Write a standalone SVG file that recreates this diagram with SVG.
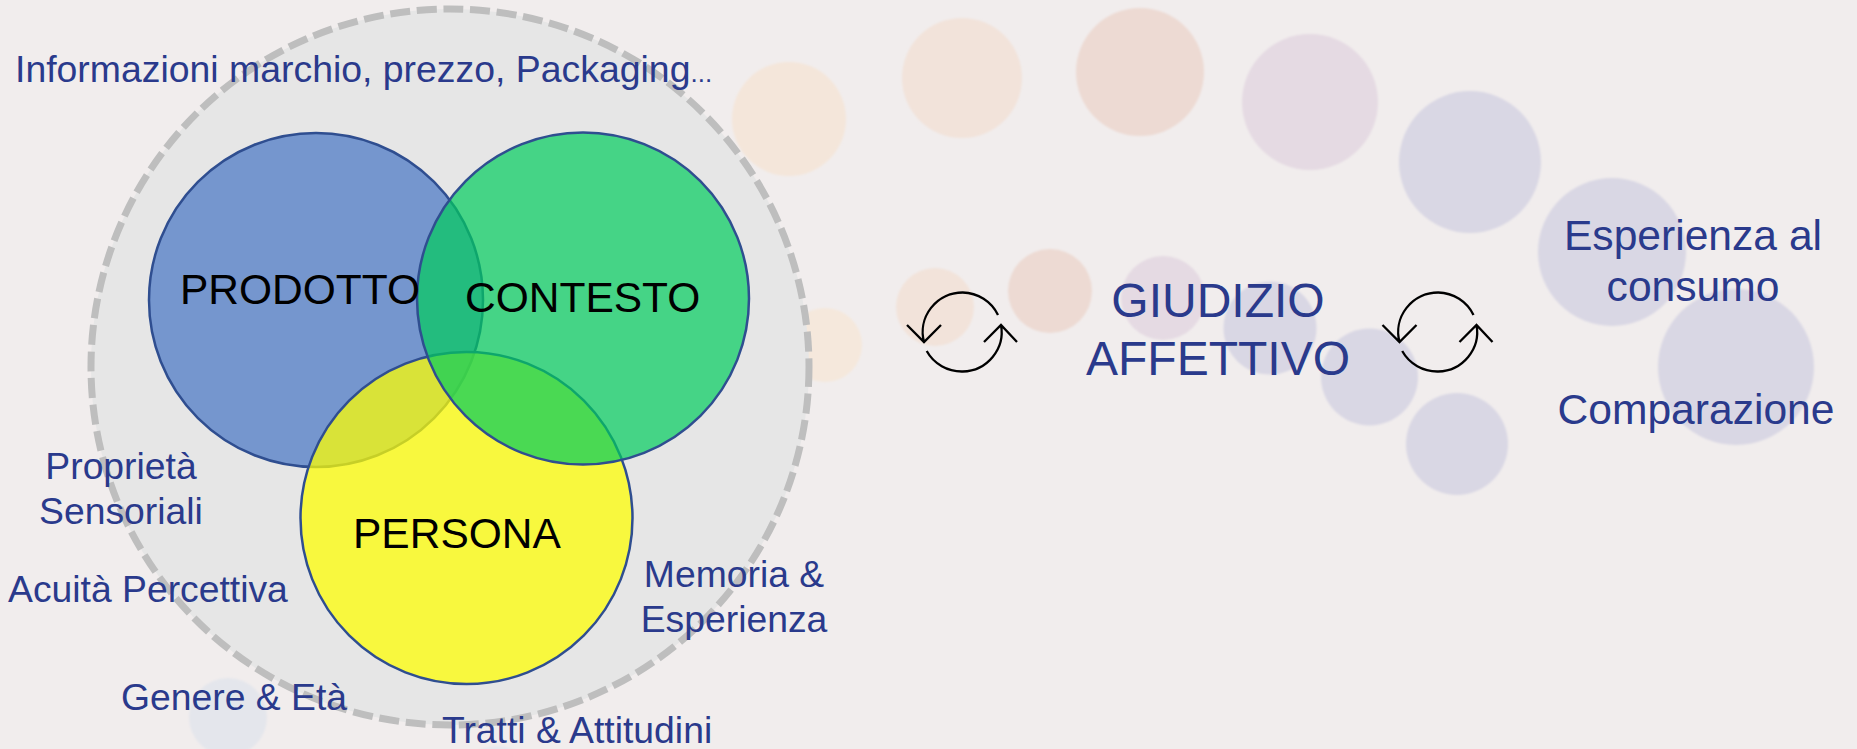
<svg xmlns="http://www.w3.org/2000/svg" width="1857" height="749" viewBox="0 0 1857 749">
<defs><filter id="soft" x="-10%" y="-10%" width="120%" height="120%"><feGaussianBlur stdDeviation="1.2"/></filter></defs>
<style>
text{font-family:"Liberation Sans",Arial,sans-serif}
.b{fill:#2a3a8c;font-size:37.300px}
.l{fill:#2a3a8c;font-size:42.600px;text-anchor:middle}
.k{fill:#000;font-size:42.500px}
.m{text-anchor:middle}
.g{fill:#2a3a8c;font-size:48px;text-anchor:middle}
.c{stroke:#2f4e90;stroke-width:2.5}
.a{fill:none;stroke:#000;stroke-width:2.300}
</style>
<rect width="1857" height="749" fill="#f1eded"/>
<g id="bubbles" filter="url(#soft)">
<circle cx="228" cy="717" r="39" fill="#e4e6ec"/>
<circle cx="497" cy="786" r="40" fill="#e6e8ee"/>
<circle cx="825" cy="345" r="37" fill="#f5e8dc"/>
<circle cx="789" cy="119" r="57" fill="#f4e6da"/>
<circle cx="962" cy="78" r="60" fill="#f2e3da"/>
<circle cx="1140" cy="72" r="64" fill="#eddad3"/>
<circle cx="1310" cy="102" r="68" fill="#e5dae3"/>
<circle cx="1470" cy="162" r="71" fill="#d9d7e4"/>
<circle cx="1612" cy="252" r="74" fill="#d9d7e4"/>
<circle cx="1736" cy="367" r="78" fill="#d9d7e4"/>
<circle cx="1457" cy="444" r="51" fill="#d9d7e4"/>
<circle cx="1369.500" cy="377" r="48.500" fill="#d9d7e4"/>
<circle cx="1270" cy="328" r="46.500" fill="#d9d7e4"/>
<circle cx="1163" cy="298" r="42" fill="#e5dae3"/>
<circle cx="1050" cy="291" r="42" fill="#eddad3"/>
<circle cx="935" cy="307" r="39" fill="#f2e3da"/>
</g>
<g id="outer"><ellipse cx="450" cy="367" rx="359" ry="358" fill="#e6e6e6" stroke="#bebebe" stroke-width="7" stroke-dasharray="20 6.700"/></g>
<g id="prodotto"><circle class="c" cx="316" cy="300" r="167" fill="#7596ce"/></g>
<g id="persona"><circle class="c" cx="466.500" cy="518" r="166" fill="#ffff00" fill-opacity=".73"/></g>
<g id="contesto"><circle class="c" cx="583" cy="298.500" r="166" fill="#00cc5c" fill-opacity=".7"/></g>
<g id="labels">
<text class="k" x="180" y="304">PRODOTTO</text>
<text class="k" x="465" y="312">CONTESTO</text>
<text class="k" x="353" y="548">PERSONA</text>
<text class="b" x="15" y="82" style="font-size:37.400px">Informazioni marchio, prezzo, Packaging<tspan font-size="26">...</tspan></text>
<text class="b m" x="121" y="479">Proprietà</text>
<text class="b m" x="121" y="524">Sensoriali</text>
<text class="b" x="8" y="602">Acuità Percettiva</text>
<text class="b" x="121" y="710">Genere &amp; Età</text>
<text class="b m" x="734" y="587">Memoria &amp;</text>
<text class="b m" x="734" y="632">Esperienza</text>
<text class="b" x="442" y="743">Tratti &amp; Attitudini</text>
<text class="g" x="1218" y="317">GIUDIZIO</text>
<text class="g" x="1218" y="375">AFFETTIVO</text>
<text class="l" x="1693" y="250">Esperienza al</text>
<text class="l" x="1693" y="301">consumo</text>
<text class="l" x="1696" y="424">Comparazione</text>
</g>
<g id="connectors">
<g id="cycle1">
<path class="a" d="M998 315A40 39.500 0 0 0 962.700 292.500A40 39.500 0 0 0 924 342M907 325L924 342L941 325"/>
<path class="a" d="M926.700 351A40 39.500 0 0 0 962.700 371.500A40 39.500 0 0 0 1001 325M984 342L1001 325L1017 342"/>
</g>
<g id="cycle2" transform="translate(475.500 0)">
<path class="a" d="M998 315A40 39.500 0 0 0 962.700 292.500A40 39.500 0 0 0 924 342M907 325L924 342L941 325"/>
<path class="a" d="M926.700 351A40 39.500 0 0 0 962.700 371.500A40 39.500 0 0 0 1001 325M984 342L1001 325L1017 342"/>
</g>
</g>
</svg>
